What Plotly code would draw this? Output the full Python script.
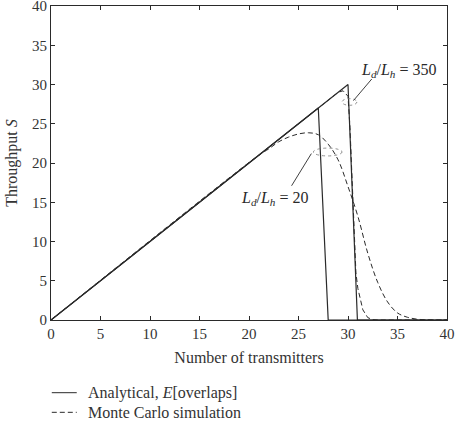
import plotly.graph_objects as go

# Analytical curves
x_an20 = [0, 27, 28, 40]
y_an20 = [0, 27, 0, 0]
x_an350 = [0, 30, 30.95, 40]
y_an350 = [0, 30, 0, 0]

# Monte Carlo curves
x_mc20 = [0, 21, 22, 23, 24, 25, 26, 27, 28, 29, 30, 31, 32, 33, 34, 35, 36, 37, 38, 39, 40]
y_mc20 = [0, 21, 21.8, 22.7, 23.3, 23.7, 23.85, 23.6, 22.4, 20.4, 17.0, 13.2, 8.5, 4.8, 2.3, 0.9, 0.35, 0.1, 0.03, 0, 0]
x_mc350 = [0, 29, 29.5, 30, 30.2, 30.4, 30.6, 30.8, 31, 31.2, 31.5, 32, 32.5, 33, 40]
y_mc350 = [0, 29, 29.2, 28.5, 24.5, 18, 11, 6, 4, 2.8, 1.3, 0.3, 0.05, 0, 0]

x_ticks = [0, 5, 10, 15, 20, 25, 30, 35, 40]
y_ticks = [0, 5, 10, 15, 20, 25, 30, 35, 40]

legend_labels = ["Analytical, <i>E</i>[overlaps]", "Monte Carlo simulation"]

FONT = "Liberation Serif"
LC = "#2a2a2a"
TC = "#333"
DASH = "5px,3px"

fig = go.Figure()
fig.add_trace(go.Scatter(x=x_an20, y=y_an20, mode="lines", line=dict(color=LC, width=1.2),
                         name=legend_labels[0], showlegend=False))
fig.add_trace(go.Scatter(x=x_an350, y=y_an350, mode="lines", line=dict(color=LC, width=1.2),
                         showlegend=False))
fig.add_trace(go.Scatter(x=x_mc20, y=y_mc20, mode="lines", line=dict(color=LC, width=1, dash=DASH),
                         line_shape="spline", name=legend_labels[1], showlegend=False))
fig.add_trace(go.Scatter(x=x_mc350, y=y_mc350, mode="lines", line=dict(color=LC, width=1, dash=DASH),
                         showlegend=False))

# dotted ellipses
fig.add_shape(type="circle", xref="x", yref="y", x0=29.4, x1=30.9, y0=27.35, y1=28.2,
              line=dict(color="#777", width=0.8, dash="dot"))
fig.add_shape(type="circle", xref="x", yref="y", x0=26.5, x1=29.4, y0=20.9, y1=21.9,
              line=dict(color="#777", width=0.8, dash="dot"))
# pointer lines
fig.add_shape(type="line", xref="x", yref="y", x0=32.4, y0=30.7, x1=30.55, y1=27.95,
              line=dict(color=LC, width=0.9))
fig.add_shape(type="line", xref="x", yref="y", x0=24.3, y0=17.1, x1=26.3, y1=21.2,
              line=dict(color=LC, width=0.9))

fig.add_annotation(x=35.05, y=31.8, xref="x", yref="y", showarrow=False,
                   text="<i>L</i><sub><i>d</i></sub>/<i>L</i><sub><i>h</i></sub> = 350",
                   font=dict(family=FONT, size=16, color=LC))
fig.add_annotation(x=22.6, y=15.5, xref="x", yref="y", showarrow=False,
                   text="<i>L</i><sub><i>d</i></sub>/<i>L</i><sub><i>h</i></sub> = 20",
                   font=dict(family=FONT, size=16, color=LC))

# manual legend below the plot (paper coords)
leg_y = [-0.2315, -0.294]
leg_dash = ["solid", DASH]
for yy, dsh, lab in zip(leg_y, leg_dash, legend_labels):
    fig.add_shape(type="line", xref="paper", yref="paper", x0=0.002, x1=0.065, y0=yy, y1=yy,
                  line=dict(color=LC, width=1, dash=dsh))
    fig.add_annotation(x=0.088, y=yy, xref="paper", yref="paper", showarrow=False,
                       xanchor="left", yanchor="middle", text=lab,
                       font=dict(family=FONT, size=16, color=TC))

axis_common = dict(showgrid=False, zeroline=False, showline=True, linecolor=LC, linewidth=1,
                   mirror="ticks", ticks="inside", ticklen=4, tickcolor=LC,
                   ticklabeloverflow="allow",
                   tickfont=dict(family=FONT, size=15, color=TC))
fig.update_xaxes(range=[0, 40], tickvals=x_ticks, **axis_common,
                 title=dict(text="Number of transmitters", font=dict(family=FONT, size=16, color=TC),
                            standoff=10))
fig.update_yaxes(range=[0, 40], tickvals=y_ticks, **axis_common,
                 title=dict(text="Throughput <i>S</i>", font=dict(family=FONT, size=16, color=TC),
                            standoff=10))

fig.update_layout(
    width=459, height=424,
    margin=dict(l=51, r=12, t=6, b=104, autoexpand=False),
    plot_bgcolor="white", paper_bgcolor="white",
    font=dict(family=FONT, color=TC),
    showlegend=False,
)

fig.write_html("out.html")
